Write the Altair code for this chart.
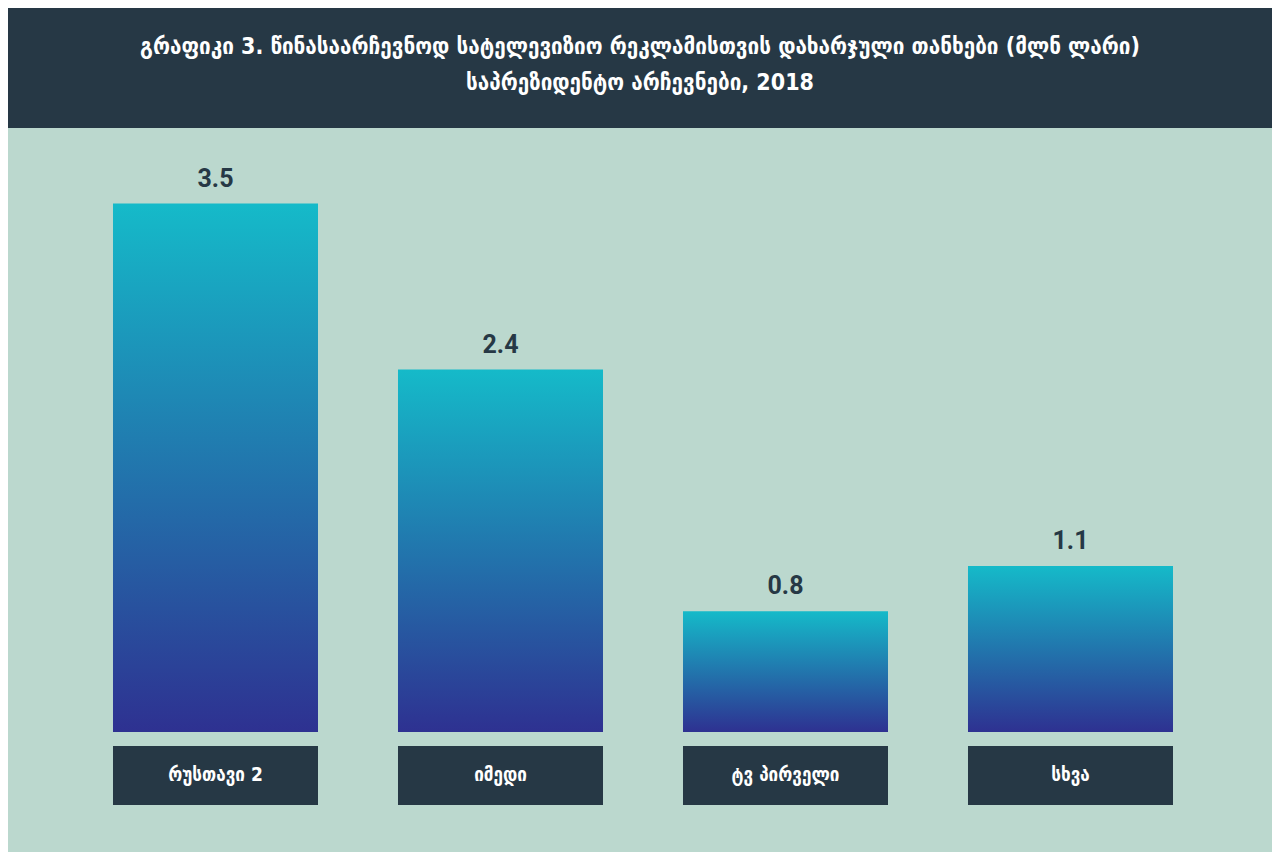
import altair as alt
import pandas as pd

categories = ["რუსთავი 2", "იმედი", "ტვ პირველი", "სხვა"]
values = [3.5, 2.4, 0.8, 1.1]
title_lines = [
    "გრაფიკი 3. წინასაარჩევნოდ სატელევიზიო რეკლამისთვის დახარჯული თანხები (მლნ ლარი)",
    "საპრეზიდენტო არჩევნები, 2018",
]

df = pd.DataFrame({"cat": categories, "v": values, "lbl": [f"{v:.1f}" for v in values]})
hdr = pd.DataFrame({"t": title_lines, "row": [0, 1]})

W, H = 1264, 844
DARK = "#263845"
BG = "#bbd8ce"

xs = alt.Scale(domain=categories, range=[65, 1205], paddingInner=0.2807, paddingOuter=0.14035)
ys = alt.Scale(domain=[0, 4], range=[724, 724 - 4 * 151])

X = alt.X("cat:N", scale=xs, axis=None, sort=categories)

grad = alt.LinearGradient(
    gradient="linear",
    stops=[alt.GradientStop(color="#15bac9", offset=0), alt.GradientStop(color="#2e3191", offset=1)],
    x1=0, x2=0, y1=0, y2=1,
)

base = alt.Chart(df)

bars = base.mark_bar(color=grad).encode(
    x=X,
    y=alt.Y("v:Q", scale=ys, axis=None),
    y2=alt.datum(0),
)

vals = base.mark_text(font="Roboto", fontWeight="bold", fontSize=25, color=DARK, baseline="bottom", dy=-12).encode(
    x=X, y=alt.Y("v:Q", scale=ys, axis=None), text="lbl:N"
)

boxes = base.mark_rect(color=DARK).encode(
    x=X, y=alt.value(738), y2=alt.value(797)
)

cat_text = base.mark_text(font="DejaVu Sans Condensed", fontWeight="bold", fontSize=19, color="white", baseline="middle").encode(
    x=X, y=alt.value(767), text="cat:N"
)

header = alt.Chart(pd.DataFrame({"a": [1]})).mark_rect(color=DARK).encode(
    x=alt.value(-10), x2=alt.value(W + 10), y=alt.value(-10), y2=alt.value(120)
)

title_text = alt.Chart(hdr).mark_text(font="DejaVu Sans Condensed", fontWeight="bold", fontSize=23, color="white", baseline="middle").encode(
    x=alt.value(632),
    y=alt.Y("row:Q", scale=alt.Scale(domain=[0, 1], range=[39, 75]), axis=None),
    text="t:N",
)

chart = alt.layer(header, title_text, bars, vals, boxes, cat_text).properties(
    width=W, height=H, padding=0, autosize=alt.AutoSizeParams(type="none"), background=BG
).configure_view(stroke=None).resolve_scale(y="independent")

chart.save("out.html", embed_options={"renderer": "svg", "actions": False})
